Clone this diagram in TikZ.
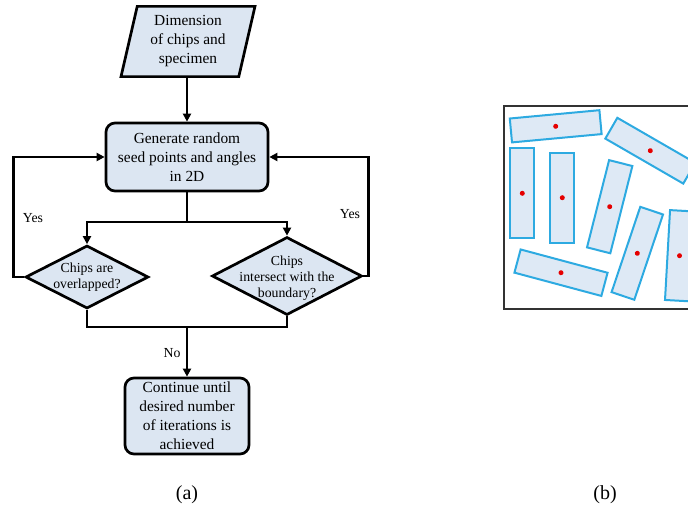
\documentclass[tikz,border=0pt]{standalone}
\usepackage{fontspec}
\setmainfont{Liberation Serif}
\usepackage{tikz}
\usetikzlibrary{arrows.meta, shapes.geometric}
\definecolor{boxfill}{RGB}{220,230,242}
\definecolor{chipline}{RGB}{45,170,225}
\definecolor{chipfill}{RGB}{222,233,245}

\begin{document}
\begin{tikzpicture}[x=1pt, y=-1pt,
    box/.style={draw=black, line width=2.7pt, fill=boxfill, rounded corners=9pt,
      align=center, font=\fontsize{15.4}{19}\selectfont, inner sep=2pt},
    datain/.style={draw=black, line width=2.7pt, fill=boxfill, trapezium,
      trapezium left angle=77, trapezium right angle=103, minimum width=134pt,
      minimum height=67pt, align=center, font=\fontsize{15.4}{19}\selectfont, inner sep=1pt},
    decide/.style={draw=black, line width=2.7pt, fill=boxfill, diamond, inner sep=0pt},
    decidetext/.style={align=center, font=\fontsize{13.8}{15.8}\selectfont, inner sep=0pt},
    flow/.style={line width=2.7pt, -{Triangle[length=8pt, width=8pt]}},
    link/.style={line width=2.7pt},
    tag/.style={font=\fontsize{13.8}{16}\selectfont},
    chip/.style={draw=chipline, fill=chipfill, line width=2pt}]
    \useasboundingbox (0,0) rectangle (688,512);

    % flowchart (a)
    \node[datain] (dim) at (188,41.5) {Dimension\\of chips and\\specimen};
    \node[box, minimum width=162pt, minimum height=68pt] (gen) at (187,157)
      {Generate random\\seed points and angles\\in 2D};
    \node[decide, minimum width=123pt, minimum height=63pt] (ovl) at (87,277) {};
    \node[decidetext] (ovltxt) at (ovl) {Chips are\\overlapped?};
    \node[decide, minimum width=150pt, minimum height=78pt] (bnd) at (287,276) {};
    \node[decidetext] (bndtxt) at (287,278) {Chips\\intersect with the\\boundary?};
    \node[box, minimum width=124pt, minimum height=76pt] (cont) at (187,416)
      {Continue until\\desired number\\of iterations is\\achieved};

    \coordinate (split) at (187,222);
    \coordinate (merge) at (187,327);

    \draw[flow] (dim.south -| gen.north) -- (gen.north);
    \draw[link] (gen.south) -- (split);
    \draw[flow] (split) -| (ovl.north);
    \draw[flow] (split) -| (bnd.north);
    \draw[flow] (ovl.west) -- ++(-11,0) |- (gen.west);
    \draw[flow] (bnd.east) -- ++(5,0) |- (gen.east);
    \draw[link] (ovl.south) |- (merge) -| (bnd.south);
    \draw[flow] (merge) -- (cont.north);

    \node[tag] (yesl) at (33,218) {Yes};
    \node[tag] (yesr) at (350,214) {Yes};
    \node[tag] (no) at (172,353) {No};
    \node[font=\fontsize{20}{22}\selectfont] (capa) at (187,495) {(a)};

    % chips in the specimen (b)
    \begin{scope}
      \clip (0,0) rectangle (688,512);
      \draw[line width=1.2pt, black!80] (504,106) rectangle (720,309);
      \foreach \Cx/\Cy/\Ang in {
        555.7/126.3/5.3,
        650.3/150.7/-30,
        522.3/193.3/90,
        562.3/197.7/90,
        609.7/206.7/75.8,
        637.3/253.3/71.4,
        679.5/255.7/86.8,
        561.0/272.7/-15}
      {
        \begin{scope}[shift={(\Cx,\Cy)}, rotate=\Ang]
          \draw[chip] (-45,-12) rectangle (45,12);
          \fill[red!90!black] (0,0) circle (2.5);
        \end{scope}
      }
    \end{scope}
    \node[font=\fontsize{20}{22}\selectfont] (capb) at (605,495) {(b)};
\end{tikzpicture}
\end{document}
